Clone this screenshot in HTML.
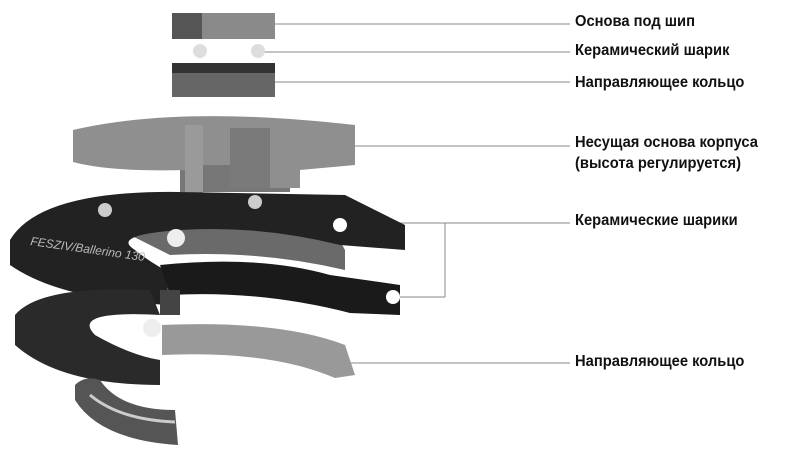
<!DOCTYPE html>
<html><head><meta charset="utf-8"><style>
body{margin:0;background:#fff;width:800px;height:463px;overflow:hidden;position:relative;font-family:"Liberation Sans",sans-serif}
.l{position:absolute;left:575px;font-weight:bold;font-size:16px;color:#111;white-space:nowrap;transform:scaleX(.92);transform-origin:left}
</style></head><body>
<svg width="800" height="463" style="position:absolute;left:0;top:0">
<g stroke="#888" stroke-width="1" fill="none">
<line x1="270" y1="24" x2="570" y2="24"/>
<line x1="262" y1="52" x2="570" y2="52"/>
<line x1="275" y1="82" x2="570" y2="82"/>
<line x1="345" y1="146" x2="570" y2="146"/>
<line x1="345" y1="223" x2="570" y2="223"/>
<line x1="395" y1="297" x2="445" y2="297"/>
<line x1="445" y1="223" x2="445" y2="297"/>
<line x1="350" y1="363" x2="570" y2="363"/>
</g>
<!-- top parts -->
<rect x="172" y="13" width="103" height="26" fill="#8a8a8a"/>
<rect x="172" y="13" width="30" height="26" fill="#555"/>
<circle cx="200" cy="51" r="7" fill="#ddd"/><circle cx="258" cy="51" r="7" fill="#ddd"/>
<rect x="172" y="63" width="103" height="34" fill="#666"/>
<rect x="172" y="63" width="103" height="10" fill="#333"/>
<!-- housing -->
<path d="M180 192 L180 160 L290 160 L290 192 Z" fill="#777"/>
<path d="M73 130 Q180 105 355 125 L355 165 L300 170 L300 188 L255 188 L255 165 L200 165 L200 195 L185 195 L185 170 Q110 172 73 162 Z" fill="#8f8f8f"/>
<rect x="185" y="125" width="18" height="70" fill="#9a9a9a"/>
<rect x="230" y="128" width="40" height="60" fill="#7a7a7a"/>
<!-- inner components visible in ring hole -->
<path d="M130 235 Q170 205 260 210 Q330 218 345 250 L345 270 Q260 250 170 255 Z" fill="#6a6a6a"/>
<!-- black ring -->
<path d="M10 240 Q40 190 180 192 L345 195 L405 225 L405 250 L340 245 Q260 225 180 230 Q110 235 135 250 Q150 262 165 270 L170 305 Q60 300 10 265 Z" fill="#222"/>
<path d="M160 265 Q260 255 330 275 L400 285 L400 315 L350 313 Q260 290 170 295 Z" fill="#1a1a1a"/>
<path d="M160 290 L180 290 L180 315 L160 315 Z" fill="#444"/>
<circle cx="105" cy="210" r="7" fill="#ccc"/><circle cx="255" cy="202" r="7" fill="#ccc"/>
<circle cx="176" cy="238" r="9" fill="#eee"/><circle cx="340" cy="225" r="7" fill="#fff"/>
<circle cx="393" cy="297" r="7" fill="#fff"/>
<text x="30" y="245" font-family="Liberation Sans" font-size="12" fill="#bbb" font-style="italic" transform="rotate(8 30 245)">FESZIV/Ballerino 130</text>
<!-- lower ring -->
<path d="M15 315 Q40 285 150 290 L160 315 Q70 310 95 335 Q130 355 160 360 L160 385 Q60 385 15 345 Z" fill="#2a2a2a"/>
<path d="M162 325 Q280 320 345 345 L355 375 L335 378 Q270 350 162 355 Z" fill="#999"/>
<circle cx="152" cy="328" r="9" fill="#eee"/>
<!-- bottom piece -->
<path d="M75 385 Q85 375 100 380 Q120 410 175 410 L178 445 Q100 440 75 400 Z" fill="#555"/>
<path d="M90 395 Q120 420 175 422" stroke="#ccc" stroke-width="3" fill="none"/>
</svg>
<div class="l" style="top:13px">Основа под шип</div>
<div class="l" style="top:42px">Керамический шарик</div>
<div class="l" style="top:74px">Направляющее кольцо</div>
<div class="l" style="top:134px">Несущая основа корпуса</div>
<div class="l" style="top:155px">(высота регулируется)</div>
<div class="l" style="top:212px">Керамические шарики</div>
<div class="l" style="top:353px">Направляющее кольцо</div>
</body></html>
